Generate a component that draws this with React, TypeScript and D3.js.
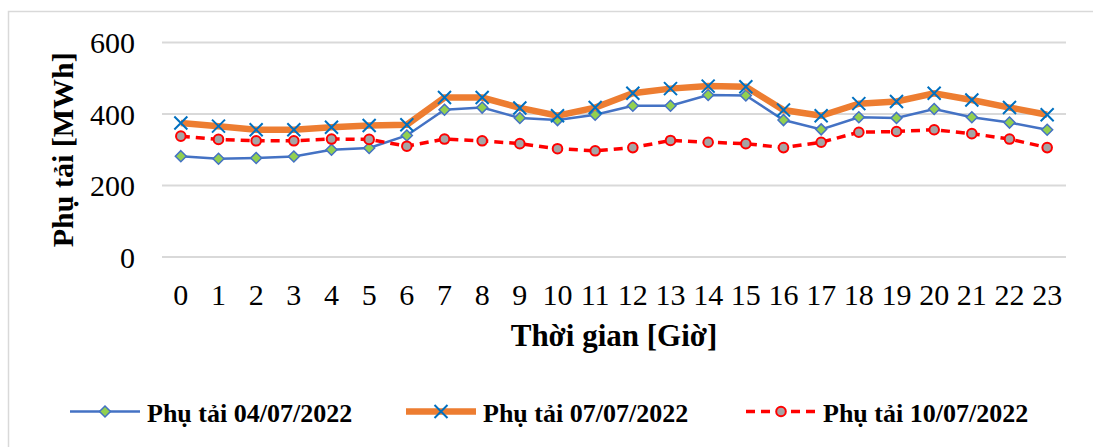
import * as d3 from "d3";

const hours = d3.range(0, 24).map(String);
const load0407 = [282, 275, 277, 281, 300, 305, 340, 412, 418, 389, 383, 398, 423, 423, 453, 452, 383, 357, 391, 389, 414, 391, 376, 356];
const load0707 = [375, 366, 356, 356, 363, 368, 370, 446, 446, 417, 395, 418, 458, 471, 478, 476, 411, 395, 429, 435, 458, 439, 418, 398];
const load1007 = [338, 329, 325, 325, 330, 329, 310, 330, 325, 317, 303, 297, 306, 326, 321, 317, 306, 321, 349, 351, 356, 345, 330, 306];
const yTicks = [0, 200, 400, 600];
const seriesNames = ["Phụ tải 04/07/2022", "Phụ tải 07/07/2022", "Phụ tải 10/07/2022"];

const width = 1093;
const height = 447;
const margin = { left: 162, right: 1066, top: 42.5, bottom: 257 };
const font = "'Liberation Serif', 'Times New Roman', serif";

const Diamond = ({ x, y }) => (
  <path
    d={`M${x},${y - 5.5}L${x + 5.5},${y}L${x},${y + 5.5}L${x - 5.5},${y}Z`}
    fill="#92D050"
    stroke="#4472C4"
    strokeWidth={1.5}
  />
);

const Cross = ({ x, y }) => (
  <path
    d={`M${x - 6.5},${y - 6.5}L${x + 6.5},${y + 6.5}M${x - 6.5},${y + 6.5}L${x + 6.5},${y - 6.5}`}
    stroke="#0070C0"
    strokeWidth={2}
    fill="none"
  />
);

const Dot = ({ x, y }) => (
  <circle cx={x} cy={y} r={4.8} fill="#A5A5A5" stroke="#FF0000" strokeWidth={2} />
);

const App = () => {
  const x = d3.scaleBand(hours, [margin.left, margin.right]);
  const cx = (h) => x(h) + x.bandwidth() / 2;
  const y = d3.scaleLinear([0, 600], [margin.bottom, margin.top]);

  const line = d3
    .line()
    .x((d, i) => cx(hours[i]))
    .y((d) => y(d));

  const series = [
    { values: load0407, color: "#4472C4", width: 2.5, dash: null, Marker: Diamond },
    { values: load0707, color: "#ED7D31", width: 6.5, dash: null, Marker: Cross },
    { values: load1007, color: "#FF0000", width: 3.5, dash: "9,6", Marker: Dot },
  ];

  const legendX = [70, 406, 746];

  return (
    <svg
      width={width}
      height={height}
      style={{ position: "absolute", left: 0, top: 0, background: "white" }}
      fontFamily={font}
    >
      <rect x={8.5} y={11.5} width={width} height={height} fill="white" stroke="#D9D9D9" strokeWidth={1.5} />

      {yTicks.map((t) => (
        <g key={t}>
          <line x1={margin.left} x2={margin.right} y1={y(t)} y2={y(t)} stroke="#D9D9D9" strokeWidth={2} />
          <text x={135} y={y(t) + 10.5} textAnchor="end" fontSize={30}>
            {t}
          </text>
        </g>
      ))}

      {hours.map((h) => (
        <text key={h} x={cx(h)} y={305} textAnchor="middle" fontSize={30}>
          {h}
        </text>
      ))}

      <text
        transform={`translate(73, ${(margin.top + margin.bottom) / 2}) rotate(-90)`}
        textAnchor="middle"
        fontSize={30}
        fontWeight="bold"
      >
        Phụ tải [MWh]
      </text>
      <text x={(margin.left + margin.right) / 2} y={346} textAnchor="middle" fontSize={31} fontWeight="bold">
        Thời gian [Giờ]
      </text>

      {series.map((s, si) => (
        <g key={si}>
          <path d={line(s.values)} fill="none" stroke={s.color} strokeWidth={s.width} strokeDasharray={s.dash} />
          {s.values.map((v, i) => (
            <s.Marker key={i} x={cx(hours[i])} y={y(v)} />
          ))}
        </g>
      ))}

      {series.map((s, si) => (
        <g key={si}>
          <line
            x1={legendX[si]}
            x2={legendX[si] + 70}
            y1={411.5}
            y2={411.5}
            stroke={s.color}
            strokeWidth={s.width}
            strokeDasharray={s.dash}
          />
          <s.Marker x={legendX[si] + 35} y={411.5} />
          <text x={legendX[si] + 77} y={421.5} fontSize={26} fontWeight="bold">
            {seriesNames[si]}
          </text>
        </g>
      ))}
    </svg>
  );
};

export default App;
